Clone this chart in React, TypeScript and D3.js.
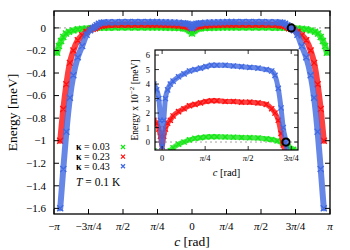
import React from 'react';
import * as d3 from 'd3';

const PI = Math.PI;

// phase c [rad] shared by the kappa = 0.23 / 0.43 curves
const cGrid = [
  -3.0, -2.93, -2.86, -2.78, -2.7, -2.6, -2.5, -2.4, -2.32, -2.26, -2.21, -2.17, -2.12, -2.06, -2.0,
  -1.9, -1.75, -1.6, -1.45, -1.3, -1.15, -1.0, -0.9, -0.8, -0.7, -0.6, -0.5, -0.4, -0.3, -0.2,
  -0.15, -0.1, -0.06, -0.03, 0, 0.03, 0.06, 0.1, 0.15, 0.2, 0.3, 0.4, 0.5, 0.6, 0.7, 0.8, 0.9,
  1.0, 1.15, 1.3, 1.45, 1.6, 1.75, 1.9, 2.0, 2.06, 2.12, 2.17, 2.21, 2.26, 2.32, 2.4, 2.5, 2.6,
  2.7, 2.78, 2.86, 2.93, 3.0,
];

// energy [meV], kappa = 0.43
const eBlue = [
  -1.6, -1.25, -0.92, -0.62, -0.42, -0.26, -0.16, -0.06, -0.02, 0, 0.01, 0.0235, 0.037, 0.046, 0.049,
  0.05, 0.051, 0.0515, 0.052, 0.0525, 0.053, 0.053, 0.053, 0.052, 0.051, 0.05, 0.049, 0.047, 0.045, 0.042,
  0.04, 0.036, 0.03, 0.015, -0.003, 0.015, 0.03, 0.036, 0.04, 0.042, 0.045, 0.047, 0.049, 0.05, 0.051, 0.052, 0.053,
  0.053, 0.053, 0.0525, 0.052, 0.0515, 0.051, 0.05, 0.049, 0.046, 0.037, 0.0235, 0.01, 0, -0.02, -0.06, -0.16, -0.26,
  -0.42, -0.62, -0.92, -1.25, -1.6,
];

// energy [meV], kappa = 0.23
const eRed = [
  -1.0, -0.72, -0.5, -0.31, -0.2, -0.11, -0.065, -0.035, -0.016, -0.008, -0.002, 0.006, 0.015, 0.02, 0.023,
  0.026, 0.027, 0.0275, 0.0275, 0.028, 0.028, 0.0285, 0.0285, 0.028, 0.027, 0.026, 0.025, 0.023, 0.021, 0.018,
  0.015, 0.013, 0.009, 0.004, -0.003, 0.004, 0.009, 0.013, 0.015, 0.018, 0.021, 0.023, 0.025, 0.026, 0.027, 0.028, 0.0285,
  0.0285, 0.028, 0.028, 0.0275, 0.0275, 0.027, 0.026, 0.023, 0.02, 0.015, 0.006, -0.002, -0.008, -0.016, -0.035, -0.065, -0.11,
  -0.2, -0.31, -0.5, -0.72, -1.0,
];

// kappa = 0.03 has its own grid (reaches a bit closer to +-pi)
const cGreen = [
  -3.07, -3.03, -2.98, -2.93, -2.87, -2.8, -2.7, -2.6, -2.5, -2.4, -2.3, -2.2, -2.1, -2.0, -1.9, -1.75,
  -1.6, -1.45, -1.3, -1.15, -1.0, -0.9, -0.8, -0.7, -0.6, -0.5, -0.4, -0.3, -0.2, -0.15, -0.1, -0.06, -0.03,
  0, 0.03, 0.06, 0.1, 0.15, 0.2, 0.3, 0.4, 0.5, 0.6, 0.7, 0.8, 0.9, 1.0, 1.15, 1.3, 1.45, 1.6, 1.75,
  1.9, 2.0, 2.1, 2.2, 2.3, 2.4, 2.5, 2.6, 2.7, 2.8, 2.87, 2.93, 2.98, 3.03, 3.07,
];
const eGreen = [
  -0.22, -0.16, -0.115, -0.08, -0.05, -0.035, -0.022, -0.012, -0.008, -0.005, -0.003, -0.0008, 0.0008, 0.0017, 0.0022, 0.0028,
  0.003, 0.0031, 0.0033, 0.0035, 0.0036, 0.0036, 0.0035, 0.003, 0.0025, 0.0015, 0, -0.0015, -0.004, -0.006, -0.011, -0.02, -0.03,
  -0.05, -0.03, -0.02, -0.011, -0.006, -0.004, -0.0015, 0, 0.0015, 0.0025, 0.003, 0.0035, 0.0036, 0.0036, 0.0035, 0.0033, 0.0031, 0.003, 0.0028,
  0.0022, 0.0017, 0.0008, -0.0008, -0.003, -0.005, -0.008, -0.012, -0.022, -0.035, -0.05, -0.08, -0.115, -0.16, -0.22,
];

const series = [
  { label: '0.03', color: '#16e616', c: cGreen, e: eGreen },
  { label: '0.23', color: '#ff1010', c: cGrid, e: eRed },
  { label: '0.43', color: '#4169e1', c: cGrid, e: eBlue },
];

const xTicks = [-1, -0.75, -0.5, -0.25, 0, 0.25, 0.5, 0.75, 1]; // multiples of pi
const xTickLabels = ['−π', '−3π/4', 'π/2', 'π/4', '0', 'π/4', 'π/2', '3π/4', 'π'];
const yTicks = [0, -0.2, -0.4, -0.6, -0.8, -1, -1.2, -1.4, -1.6];
const yTickLabels = ['0', '−0.2', '−0.4', '−0.6', '−0.8', '−1', '−1.2', '−1.4', '−1.6'];

const insetXTicks = [0, 0.25, 0.5, 0.75];
const insetXTickLabels = ['0', 'π/4', 'π/2', '3π/4'];
const insetYTicks = [0, 1, 2, 3, 4, 5, 6];

const marked = { c: 2.26, e: 0 };

const font = '"Liberation Serif", "Times New Roman", serif';

// renders "3π/4" with an italic pi
function PiText(props: any) {
  const { text, ...rest } = props;
  const parts = String(text).split('π');
  return (
    <text {...rest}>
      {parts.map((p: string, i: number) => (
        <React.Fragment key={i}>
          {p && <tspan>{p}</tspan>}
          {i < parts.length - 1 && <tspan fontStyle="italic">π</tspan>}
        </React.Fragment>
      ))}
    </text>
  );
}

function crosses(pts: [number, number][], s: number) {
  return pts.map(([x, y]) => `M${x - s},${y - s}L${x + s},${y + s}M${x - s},${y + s}L${x + s},${y - s}`).join('');
}

function curve(c: number[], e: number[], sx: any, sy: any, k: number) {
  const pts: [number, number][] = c.map((cv, i) => [sx(cv), sy(e[i] * k)]);
  const gen = d3.line().curve(d3.curveMonotoneX);
  return { d: gen(pts) || '', pts };
}

export default function App() {
  const W = 350, H = 250;
  // main frame
  const L = 54, R = 330, T = 11, B = 214;
  const x = d3.scaleLinear().domain([-PI, PI]).range([L, R]);
  const y = d3.scaleLinear().domain([-1.65, 0.15]).range([B, T]);

  // inset frame
  const iL = 155, iR = 298, iT = 50, iB = 150;
  const xi = d3.scaleLinear().domain([-0.13, 2.48]).range([iL, iR]);
  const yi = d3.scaleLinear().domain([-0.55, 6.35]).range([iB, iT]);

  const tick = 5;
  const itick = 4;

  return (
    <svg width={W} height={H} style={{ position: 'absolute', left: 0, top: 0, background: '#fff' }} fontFamily={font}>
      <defs>
        <clipPath id="mainClip"><rect x={L} y={T} width={R - L} height={B - T} /></clipPath>
        <clipPath id="insetClip"><rect x={iL} y={iT} width={iR - iL} height={iB - iT} /></clipPath>
      </defs>

      {/* zero reference line */}
      <line x1={L} x2={R} y1={y(0)} y2={y(0)} stroke="#999" strokeWidth={1} strokeDasharray="2,3" />

      {/* main curves */}
      <g clipPath="url(#mainClip)">
        {series.map((s) => {
          const { d, pts } = curve(s.c, s.e, x, y, 1);
          return (
            <g key={s.label}>
              <path d={d} fill="none" stroke={s.color} strokeWidth={6} strokeOpacity={0.8} strokeLinejoin="round" strokeLinecap="round" />
              <path d={crosses(pts, 3)} fill="none" stroke={s.color} strokeWidth={1.4} />
            </g>
          );
        })}
        <circle cx={x(marked.c)} cy={y(marked.e)} r={3.6} fill="none" stroke="#000" strokeWidth={2} />
      </g>

      {/* main frame */}
      <rect x={L} y={T} width={R - L} height={B - T} fill="none" stroke="#000" strokeWidth={1.3} />

      {/* x ticks */}
      {xTicks.map((t, i) => (
        <g key={'xt' + i}>
          <line x1={x(t * PI)} x2={x(t * PI)} y1={B} y2={B - tick} stroke="#000" strokeWidth={1} />
          <line x1={x(t * PI)} x2={x(t * PI)} y1={T} y2={T + tick} stroke="#000" strokeWidth={1} />
          <PiText text={xTickLabels[i]} x={x(t * PI)} y={230} fontSize={11} textAnchor="middle" />
        </g>
      ))}

      {/* y ticks */}
      {yTicks.map((t, i) => (
        <g key={'yt' + i}>
          <line x1={L} x2={L + tick} y1={y(t)} y2={y(t)} stroke="#000" strokeWidth={1} />
          <line x1={R} x2={R - tick} y1={y(t)} y2={y(t)} stroke="#000" strokeWidth={1} />
          <text x={46} y={y(t) + 3.8} fontSize={11} textAnchor="end">{yTickLabels[i]}</text>
        </g>
      ))}

      {/* axis labels */}
      <text x={(L + R) / 2} y={246} fontSize={13.5} textAnchor="middle">
        <tspan fontStyle="italic">c</tspan> [rad]
      </text>
      <text transform={`translate(17,${(T + B) / 2}) rotate(-90)`} fontSize={13.5} textAnchor="middle">Energy [meV]</text>

      {/* legend */}
      {series.map((s, i) => {
        const ly = 147 + i * 9.6;
        return (
          <g key={'lg' + i}>
            <text x={76} y={ly + 3.4} fontSize={10}>
              <tspan fontWeight="bold">κ</tspan> = {s.label}
            </text>
            <path d={crosses([[123, ly]], 2)} stroke={s.color} strokeWidth={1.3} fill="none" />
          </g>
        );
      })}
      <text x={76} y={186} fontSize={11.5}>
        <tspan fontStyle="italic">T</tspan> = 0.1 K
      </text>

      {/* inset */}
      <rect x={iL} y={iT} width={iR - iL} height={iB - iT} fill="#fff" />
      <line x1={iL} x2={iR} y1={yi(0)} y2={yi(0)} stroke="#999" strokeWidth={0.9} strokeDasharray="2,3" />
      <g clipPath="url(#insetClip)">
        {series.map((s) => {
          const { d, pts } = curve(s.c, s.e, xi, yi, 100);
          return (
            <g key={'in' + s.label}>
              <path d={d} fill="none" stroke={s.color} strokeWidth={5} strokeOpacity={0.8} strokeLinejoin="round" strokeLinecap="round" />
              <path d={crosses(pts, 2.6)} fill="none" stroke={s.color} strokeWidth={1.3} />
            </g>
          );
        })}
        <circle cx={xi(marked.c)} cy={yi(marked.e * 100)} r={3.6} fill="none" stroke="#000" strokeWidth={2} />
      </g>
      <rect x={iL} y={iT} width={iR - iL} height={iB - iT} fill="none" stroke="#000" strokeWidth={1.2} />

      {insetXTicks.map((t, i) => (
        <g key={'ixt' + i}>
          <line x1={xi(t * PI)} x2={xi(t * PI)} y1={iB} y2={iB - itick} stroke="#000" strokeWidth={0.8} />
          <line x1={xi(t * PI)} x2={xi(t * PI)} y1={iT} y2={iT + itick} stroke="#000" strokeWidth={0.8} />
          <PiText text={insetXTickLabels[i]} x={xi(t * PI)} y={161} fontSize={8.5} textAnchor="middle" />
        </g>
      ))}
      {insetYTicks.map((t, i) => (
        <g key={'iyt' + i}>
          <line x1={iL} x2={iL + itick} y1={yi(t)} y2={yi(t)} stroke="#000" strokeWidth={0.8} />
          <line x1={iR} x2={iR - itick} y1={yi(t)} y2={yi(t)} stroke="#000" strokeWidth={0.8} />
          <text x={150} y={yi(t) + 3} fontSize={8.5} textAnchor="end">{t}</text>
        </g>
      ))}
      <text x={(iL + iR) / 2} y={176} fontSize={10.5} textAnchor="middle">
        <tspan fontStyle="italic">c</tspan> [rad]
      </text>
      <text transform={`translate(138,${(iT + iB) / 2}) rotate(-90)`} fontSize={9.5} textAnchor="middle">
        Energy x 10<tspan dy={-4} fontSize={7}>−2</tspan><tspan dy={4}> [meV]</tspan>
      </text>
    </svg>
  );
}
